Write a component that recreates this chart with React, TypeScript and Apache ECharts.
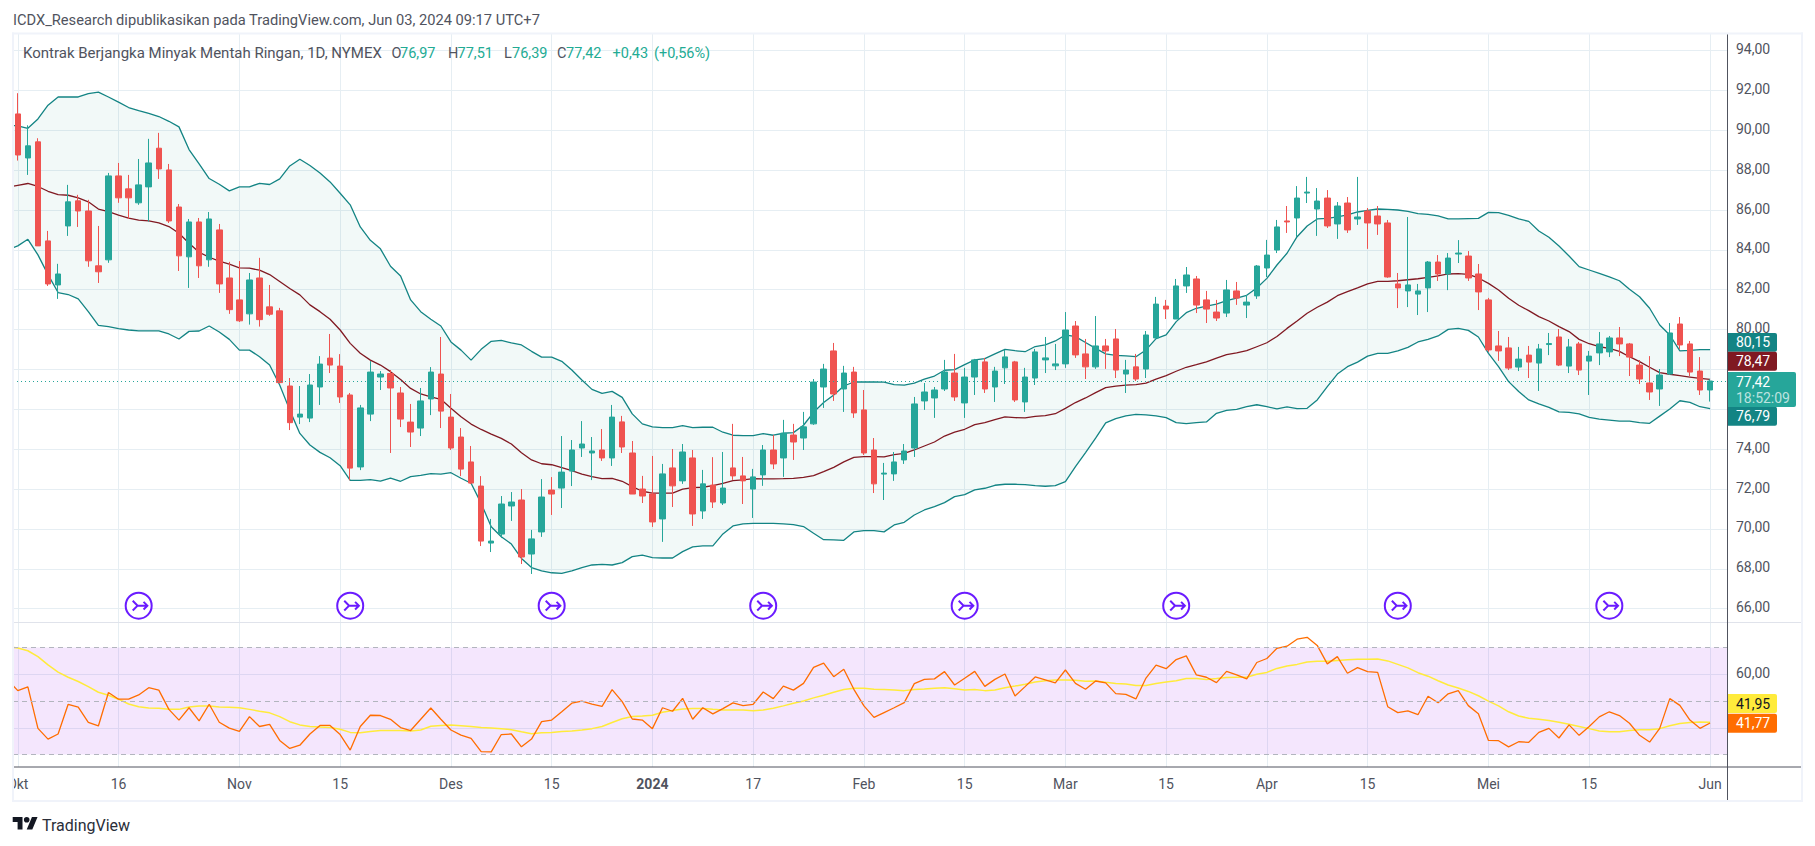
import React, { useEffect, useRef } from "react";
import * as echarts from "echarts";

const titleText = "ICDX_Research dipublikasikan pada TradingView.com, Jun 03, 2024 09:17 UTC+7";

const opens = [
  90.82,88.61,89.42,84.45,82.24,85.20,86.46,85.95,83.20,83.50,
  87.71,87.06,86.36,87.16,89.10,88.01,86.15,83.65,85.40,83.50,
  85.00,82.59,81.49,80.79,82.59,81.14,80.94,77.17,75.61,75.56,
  77.12,78.57,78.17,76.72,73.11,75.76,77.62,77.80,76.82,75.36,
  75.06,76.52,77.77,75.61,74.61,73.36,72.15,69.29,69.74,71.15,
  71.45,68.74,69.85,71.95,72.05,72.90,74.06,73.81,73.96,73.56,
  75.37,73.81,72.00,71.75,70.50,73.06,72.41,73.56,70.90,72.20,
  71.30,73.06,72.66,72.00,72.71,73.96,73.56,74.71,74.56,75.27,
  77.12,78.93,77.02,77.87,75.97,73.96,72.75,72.76,73.46,74.06,
  76.42,76.57,77.02,77.82,76.32,77.62,78.38,77.12,78.08,78.38,
  76.37,77.57,78.48,78.18,78.28,80.18,78.78,78.13,79.18,79.53,
  77.77,78.13,78.02,79.58,81.18,80.53,82.19,82.54,81.49,80.88,
  80.83,81.94,81.23,81.69,83.09,83.99,85.45,85.60,86.85,86.05,
  86.60,85.30,86.35,85.55,85.95,85.70,85.35,82.29,81.94,81.78,
  82.09,83.39,82.79,83.79,83.69,82.79,81.49,79.18,79.08,78.12,
  78.72,78.32,79.25,79.63,78.17,79.28,78.42,78.83,78.88,79.58,
  79.28,78.22,77.32,77.02,77.77,80.28,79.28,77.92,76.97,
];
const closes = [
  88.76,89.22,84.20,82.29,82.79,86.41,85.95,83.45,82.90,87.71,
  86.61,86.61,87.26,88.36,88.06,85.45,83.70,85.40,83.20,85.55,
  82.29,81.00,80.44,82.49,80.50,80.77,77.34,75.33,75.76,77.22,
  78.27,78.22,76.62,73.05,76.07,77.87,77.77,77.07,75.51,74.86,
  76.42,77.87,75.91,74.06,73.00,72.30,69.39,69.39,71.25,71.35,
  68.59,69.50,71.60,71.75,72.85,73.96,74.26,73.91,73.56,75.61,
  74.11,71.75,71.65,70.35,72.76,72.16,73.86,70.75,72.26,71.35,
  72.05,72.66,72.41,72.61,73.96,73.26,74.80,74.36,75.12,77.37,
  78.02,76.77,77.82,75.82,73.81,72.26,72.80,73.36,73.91,76.27,
  76.87,76.97,77.87,76.62,77.62,78.48,77.02,77.92,78.63,76.47,
  77.62,78.88,78.58,78.28,79.98,78.73,78.13,79.18,78.93,77.97,
  77.97,77.52,79.73,81.28,81.03,82.19,82.74,81.23,81.03,80.58,
  81.99,81.58,81.38,83.19,83.74,85.15,85.40,86.60,86.90,86.45,
  85.20,86.20,85.00,85.65,85.35,85.30,82.64,82.09,82.24,81.94,
  83.39,82.79,83.59,83.84,82.59,81.89,78.98,78.93,78.07,78.52,
  78.37,79.03,79.30,78.22,79.13,77.97,78.67,79.28,79.58,79.28,
  78.62,77.52,76.87,77.72,79.83,79.23,77.87,76.97,77.42,
];
const lows = [
  88.48,87.76,84.20,82.19,81.54,84.70,85.15,83.15,82.34,83.35,
  86.36,85.55,86.26,85.42,87.56,85.35,82.94,82.09,82.59,83.15,
  81.84,80.79,80.38,80.25,80.15,80.69,77.30,74.96,75.26,75.36,
  76.22,77.82,76.32,72.44,72.95,75.41,76.97,73.81,75.11,74.11,
  74.66,75.71,75.06,73.96,72.65,72.25,69.14,68.84,69.54,70.40,
  68.24,67.74,69.60,70.70,71.05,72.15,73.61,72.45,73.41,73.16,
  73.81,71.75,71.30,70.10,69.35,71.10,72.26,70.15,70.50,71.05,
  71.20,72.46,71.25,70.55,72.16,73.00,72.61,73.46,73.96,75.22,
  76.07,76.42,75.87,75.57,73.71,71.80,71.45,72.41,73.26,73.61,
  75.97,75.57,76.92,76.42,75.57,76.72,76.82,76.37,77.27,76.37,
  75.87,77.22,77.82,77.97,78.08,78.58,77.52,78.03,78.03,77.57,
  76.82,77.42,77.57,79.58,80.53,80.53,81.84,80.83,80.33,80.43,
  80.63,81.24,80.58,81.54,82.64,83.84,84.85,84.65,86.35,84.70,
  85.10,84.55,84.85,85.25,84.05,84.75,82.60,81.08,81.13,80.73,
  80.88,82.44,81.98,83.34,82.44,80.98,78.88,78.43,77.97,77.92,
  77.57,76.92,78.72,78.17,77.82,77.72,76.72,78.22,78.62,78.67,
  77.67,77.27,76.47,76.17,77.72,79.03,77.67,76.72,76.39,
];
const highs = [
  91.86,90.25,89.60,84.95,83.30,87.26,86.76,86.51,85.20,87.86,
  88.36,87.76,88.56,89.57,89.87,88.31,86.30,85.55,85.60,85.90,
  85.30,83.40,83.44,82.84,83.60,82.24,81.09,77.57,77.17,77.77,
  78.67,79.78,78.77,76.82,76.22,78.42,77.92,77.97,77.12,76.27,
  77.07,78.12,79.63,76.77,75.06,74.16,72.65,70.50,71.65,71.85,
  72.00,69.95,72.50,72.60,74.66,74.46,75.41,74.61,75.01,76.22,
  75.67,74.41,72.66,73.66,73.26,74.01,74.26,73.96,72.96,73.60,
  73.86,75.27,73.61,73.01,74.21,74.71,75.47,75.27,75.87,77.52,
  78.28,79.33,78.18,78.13,76.97,74.56,73.31,73.86,74.26,76.62,
  77.32,77.12,78.48,78.78,78.08,78.53,78.58,78.13,78.98,78.43,
  78.08,79.03,79.63,79.28,80.88,80.43,79.53,80.68,79.53,80.03,
  78.48,78.78,79.93,81.64,81.49,82.54,83.14,82.69,81.94,81.49,
  82.49,82.39,81.74,83.24,84.50,85.50,86.20,87.20,87.66,87.10,
  87.00,86.40,86.65,87.66,86.10,86.20,85.50,82.84,85.65,82.29,
  83.44,83.74,83.84,84.49,83.94,83.29,81.59,79.93,79.63,79.13,
  79.18,79.28,79.83,80.03,79.53,79.38,78.93,79.88,79.68,80.13,
  79.33,78.47,78.67,78.02,80.33,80.63,79.43,78.62,77.51,
];

// Bollinger bands: the first value belongs to the bar just left of the visible range
const upperBand = [
  90.27,
  90.22,90.10,90.57,91.26,91.67,91.67,91.67,91.84,91.91,91.67,
  91.41,91.14,90.99,90.85,90.69,90.45,90.17,89.03,88.31,87.58,
  87.29,86.96,87.16,87.16,87.34,87.28,87.56,88.21,88.55,88.23,
  87.86,87.41,86.84,86.26,85.15,84.48,84.05,83.18,82.69,81.49,
  80.90,80.52,80.18,79.38,78.97,78.47,79.01,79.41,79.46,79.33,
  79.23,78.91,78.62,78.62,78.41,77.97,77.47,77.00,76.80,76.90,
  76.60,75.77,75.27,75.12,75.08,75.08,75.18,75.08,75.10,75.10,
  74.85,74.70,74.68,74.68,74.78,74.70,74.80,74.83,75.20,75.85,
  76.34,76.72,77.17,77.37,77.37,77.37,77.36,77.24,77.21,77.31,
  77.51,77.67,77.96,77.99,78.24,78.48,78.54,78.78,79.01,78.94,
  78.89,79.15,79.23,79.43,79.73,79.65,79.35,79.06,78.78,78.71,
  78.68,78.64,78.98,79.55,79.73,80.40,80.85,81.07,81.18,81.28,
  81.45,81.58,81.72,82.09,82.57,83.24,83.83,84.66,85.20,85.55,
  85.58,85.65,85.75,85.90,85.98,86.05,86.03,86.00,85.93,85.82,
  85.78,85.70,85.55,85.55,85.57,85.58,85.88,85.87,85.73,85.55,
  85.43,84.95,84.63,84.19,83.69,83.16,82.99,82.82,82.65,82.45,
  82.02,81.65,81.07,80.23,79.73,78.93,78.96,79.00,79.00,
];
const basisLine = [
  87.14,
  87.24,87.33,87.18,86.94,86.77,86.74,86.61,86.41,86.05,85.92,
  85.74,85.59,85.49,85.45,85.35,85.17,84.83,84.33,83.88,83.63,
  83.43,83.28,83.10,83.08,82.98,82.76,82.41,82.06,81.74,81.24,
  80.90,80.52,79.98,79.31,78.81,78.47,78.22,77.89,77.50,77.05,
  76.77,76.63,76.50,76.05,75.63,75.26,74.99,74.76,74.54,74.26,
  73.82,73.46,73.27,73.22,73.07,72.92,72.75,72.62,72.52,72.54,
  72.39,72.12,71.89,71.80,71.80,71.80,72.00,72.07,72.09,72.17,
  72.29,72.42,72.46,72.52,72.51,72.51,72.52,72.54,72.59,72.67,
  72.87,73.09,73.36,73.59,73.63,73.63,73.61,73.73,73.79,73.96,
  74.16,74.36,74.66,74.86,75.00,75.23,75.33,75.48,75.62,75.58,
  75.57,75.65,75.68,75.78,76.05,76.34,76.57,76.84,77.09,77.16,
  77.21,77.24,77.31,77.51,77.69,77.91,78.11,78.24,78.38,78.57,
  78.74,78.83,78.94,79.14,79.34,79.65,80.06,80.43,80.82,81.12,
  81.38,81.70,81.90,82.09,82.29,82.42,82.42,82.45,82.50,82.55,
  82.62,82.69,82.79,82.81,82.77,82.59,82.32,81.99,81.57,81.22,
  80.95,80.65,80.43,80.15,79.90,79.51,79.29,79.14,79.06,78.91,
  78.64,78.39,78.11,77.84,77.76,77.69,77.62,77.55,77.50,
];
const lowerBand = [
  84.00,
  84.20,84.53,83.75,82.76,81.86,81.76,81.54,80.90,80.21,80.15,
  80.05,79.98,79.94,79.94,79.94,79.78,79.53,79.91,79.93,80.18,
  79.88,79.51,78.97,78.97,78.64,78.22,77.22,75.96,74.79,74.21,
  73.84,73.57,73.17,72.44,72.44,72.47,72.40,72.55,72.39,72.62,
  72.69,72.77,72.75,72.82,72.54,72.29,71.28,70.11,69.61,69.24,
  68.52,68.06,67.90,67.80,67.77,67.90,68.06,68.19,68.22,68.19,
  68.31,68.61,68.69,68.56,68.54,68.54,68.86,69.10,69.15,69.15,
  69.75,70.15,70.25,70.28,70.28,70.28,70.25,70.22,70.12,69.78,
  69.46,69.45,69.43,69.85,69.91,69.91,69.85,70.20,70.33,70.70,
  70.95,71.12,71.32,71.62,71.72,71.96,72.04,72.19,72.24,72.24,
  72.22,72.17,72.14,72.17,72.37,73.13,73.83,74.55,75.32,75.53,
  75.67,75.75,75.72,75.67,75.58,75.33,75.28,75.33,75.37,75.80,
  75.95,76.00,76.13,76.23,76.13,76.02,76.12,76.03,76.05,76.47,
  77.14,77.77,78.14,78.37,78.67,78.81,78.81,78.93,79.11,79.38,
  79.51,79.68,80.01,80.06,79.96,79.63,78.81,78.14,77.39,76.89,
  76.47,76.27,76.10,75.87,75.85,75.77,75.60,75.51,75.46,75.41,
  75.41,75.33,75.30,75.66,76.02,76.43,76.35,76.13,76.03,
];
const rsiLine = [
  57.9,
  53.9,55.3,39.8,35.8,37.7,48.8,47.7,42.0,40.7,53.2,
  50.7,50.7,52.3,55.0,54.1,46.9,42.9,47.5,42.6,48.8,
  42.1,39.9,38.7,44.2,40.5,41.3,35.3,32.3,33.5,37.7,
  40.9,40.9,37.5,31.7,40.5,44.7,44.6,43.2,40.1,39.0,
  43.2,47.4,43.2,39.2,37.3,36.1,31.1,31.0,37.5,37.7,
  32.9,35.8,42.3,42.9,46.0,49.2,50.0,48.9,48.0,54.3,
  49.8,43.3,42.9,39.7,47.5,46.2,51.0,43.2,47.5,45.2,
  47.2,49.3,48.3,48.8,53.4,50.9,55.6,54.1,56.6,62.6,
  64.2,59.1,61.9,54.4,48.2,43.9,45.7,47.5,49.4,56.5,
  58.1,58.3,61.0,56.0,58.5,61.1,55.5,58.1,60.1,51.9,
  55.4,59.0,57.9,56.8,61.6,56.6,54.4,57.5,56.8,52.8,
  52.5,50.8,58.6,63.4,62.1,65.5,66.9,59.8,58.9,56.9,
  61.1,59.8,58.3,64.4,65.9,69.7,70.5,73.1,73.8,70.8,
  63.9,66.6,60.4,62.5,61.0,60.7,47.9,45.7,46.3,44.9,
  51.8,49.4,52.7,53.9,48.3,45.3,35.3,35.2,32.9,34.8,
  34.6,38.3,39.8,36.2,41.1,37.2,40.5,44.1,46.0,44.6,
  41.7,37.2,34.7,39.8,50.9,48.4,42.9,39.8,41.8,
];
const rsiMa = [
  70.3,
  69.8,68.8,66.6,63.5,60.8,58.9,57.3,55.4,53.3,52.2,
  50.7,48.9,47.9,47.4,47.3,46.9,46.9,47.8,48.2,48.2,
  47.8,47.7,47.5,46.9,46.2,45.6,44.2,42.3,41.1,40.5,
  40.3,40.1,39.5,38.3,38.2,38.6,39.0,39.0,39.0,38.8,
  39.2,40.6,40.9,41.1,40.8,40.5,40.1,39.9,39.7,39.3,
  38.5,37.8,38.2,38.3,38.6,38.8,39.2,39.7,40.5,42.0,
  43.4,44.2,44.4,44.7,45.8,46.5,47.0,47.2,47.2,46.9,
  46.7,46.7,46.7,46.4,46.7,47.3,48.2,49.2,50.0,51.2,
  52.2,53.3,54.3,54.8,54.8,54.4,54.3,54.1,53.9,54.3,
  54.5,54.8,55.0,54.6,54.1,54.3,53.9,54.1,55.0,55.6,
  56.3,57.1,57.6,57.9,57.9,57.8,57.4,57.5,57.0,56.6,
  56.4,55.8,55.8,56.6,57.1,57.6,58.4,58.4,58.1,58.4,
  58.8,58.9,58.9,60.0,60.7,62.2,63.1,63.7,64.6,64.9,
  64.9,65.2,65.4,65.6,65.6,65.7,65.0,63.7,62.4,60.6,
  59.3,57.6,56.0,54.9,53.6,52.0,50.0,48.2,46.0,44.4,
  43.6,43.2,42.7,42.1,41.3,40.5,39.7,38.8,38.5,38.5,
  39.0,39.3,39.3,39.7,40.8,41.6,42.0,42.2,42.1,
];

const timeTickBars = [0, 10, 22, 32, 43, 53, 63, 73, 84, 94, 104, 114, 124, 134, 146, 156, 168];
const timeTickLabels = ["Okt","16","Nov","15","Des","15","2024","17","Feb","15","Mar","15","Apr","15","Mei","15","Jun"];
const priceGridTicks = [66,68,70,72,74,76,78,80,82,84,86,88,90,92,94];
// 76,00 and 78,00 are covered by the last-value tags in the reference
const priceLabelTicks = [66,68,70,72,74,80,82,84,86,88,90,92,94];
const rsiGridTicks = [40, 60];
const rsiLabelTicks = [60];
const rsiGuides = [70, 50, 30];
const eventBars = [12, 33, 53, 74, 94, 115, 137, 158];
const eventPrice = 66.15;
const lastClose = 77.42;

const legendItems: [string, string, number, number][] = [
  ["Kontrak Berjangka Minyak Mentah Ringan, 1D, NYMEX", "#50535e", 23, 15],
  ["O", "#50535e", 391.5, 14.5], ["76,97", "#22ab94", 400, 14.5],
  ["H", "#50535e", 448, 14.5], ["77,51", "#22ab94", 457.5, 14.5],
  ["L", "#50535e", 504, 14.5], ["76,39", "#22ab94", 512, 14.5],
  ["C", "#50535e", 557, 14.5], ["77,42", "#22ab94", 566, 14.5],
  ["+0,43", "#22ab94", 612.5, 14.5], ["(+0,56%)", "#22ab94", 654, 14.5],
];
// [label, second line, fill, text colour, top, bottom, right]
const priceTags: [string, string, string, string, number, number, number][] = [
  ["80,15", "", "#138484", "#ffffff", 333, 351.7, 1777],
  ["78,47", "", "#801922", "#ffffff", 351.7, 370.7, 1777],
  ["76,79", "", "#138484", "#ffffff", 406.7, 425.7, 1777],
  ["77,42", "18:52:09", "#26a69a", "#ffffff", 372, 407, 1796],
  ["41,95", "", "#ffeb3b", "#131722", 694, 713, 1777],
  ["41,77", "", "#ff6d00", "#ffffff", 713.7, 732.7, 1777],
];

const FONT = "Roboto, sans-serif";
const GRID = "#e6eef3";
const TEXT = "#50535e";
const fmt = (v: number) => "{p|" + v.toFixed(2).replace(".", ",") + "}";
const byBar = (a: number[]) => a.map((v, k) => [k - 1, v]);

const LOGO = "M14 22H7V11H0V4h14v18zM28 22h-8l7.5-18h8L28 22zM24 8a4 4 0 1 1-8 0 4 4 0 0 1 8 0z";
const EVENT_ICON = "path://M13 1A12 12 0 1 1 13 25A12 12 0 1 1 13 1ZM7.5 8.5L12 13L21 13M17.5 9.5L21 13L17.5 16.5M12 13L7.5 17.5";

export default function App() {
  const ref = useRef<HTMLDivElement>(null);
  useEffect(() => {
    if (!ref.current) return;
    echarts.graphic.registerShape("tvlogo", echarts.graphic.extendPath(LOGO, {}));
    const chart = echarts.init(ref.current, undefined, { renderer: "svg" });

    const band = { color: "#138484", width: 1.3 };
    const lineBase = { type: "line", showSymbol: false, symbol: "none", silent: true, animation: false };
    const xMin = -0.4765;
    const xMax = 169.68;
    const graphics: any[] = [
      { type: "rect", z: 50, shape: { x: 0, y: 0, width: 12, height: 846 }, style: { fill: "#ffffff" } },
      { type: "rect", z: 50, shape: { x: 1803, y: 0, width: 12, height: 846 }, style: { fill: "#ffffff" } },
      { type: "rect", z: 51, shape: { x: 12, y: 32.5, width: 1791, height: 2 }, style: { fill: "#f0f3fa" } },
      { type: "rect", z: 51, shape: { x: 12, y: 800, width: 1791, height: 2 }, style: { fill: "#f0f3fa" } },
      { type: "rect", z: 51, shape: { x: 12, y: 32.5, width: 2, height: 769 }, style: { fill: "#f0f3fa" } },
      { type: "rect", z: 51, shape: { x: 1801, y: 32.5, width: 2, height: 769 }, style: { fill: "#f0f3fa" } },
      { type: "line", z: 20, shape: { x1: 13, y1: 622.5, x2: 1802, y2: 622.5 }, style: { stroke: "#e0e3eb", lineWidth: 1 } },
      { type: "line", z: 20, shape: { x1: 13, y1: 767, x2: 1802, y2: 767 }, style: { stroke: "#50535e", lineWidth: 1 } },
      { type: "line", z: 20, shape: { x1: 1727.5, y1: 34, x2: 1727.5, y2: 801 }, style: { stroke: "#50535e", lineWidth: 1 } },
      { type: "text", z: 60, x: 13, y: 20, style: { text: titleText, fill: TEXT, fontFamily: FONT, fontSize: 14.66, verticalAlign: "middle", align: "left" } },
      { type: "tvlogo", z: 60, x: 12.7, y: 814.2, scaleX: 0.7, scaleY: 0.7, style: { fill: "#131722" } },
      { type: "text", z: 60, x: 42, y: 825, style: { text: "TradingView", fill: "#2a2e39", fontFamily: FONT, fontSize: 16, verticalAlign: "middle", align: "left" } },
    ];
    legendItems.forEach(([t, c, x, size]) => {
      graphics.push({ type: "text", z: 60, x, y: 53, style: { text: t, fill: c, fontFamily: FONT, fontSize: size, verticalAlign: "middle", align: "left" } });
    });
    priceTags.forEach(([t, t2, fill, color, top, bottom, right]) => {
      graphics.push({ type: "rect", z: 40, shape: { x: 1728, y: top, width: right - 1728, height: bottom - top, r: [0, 2, 2, 0] }, style: { fill } });
      const cy = t2 ? top + 9.5 : (top + bottom) / 2;
      graphics.push({ type: "text", z: 41, x: 1736, y: cy, style: { text: t, fill: color, fontFamily: FONT, fontSize: 14, verticalAlign: "middle", align: "left" } });
      if (t2) graphics.push({ type: "text", z: 41, x: 1736, y: top + 26, style: { text: t2, fill: "rgba(255,255,255,0.7)", fontFamily: FONT, fontSize: 14, verticalAlign: "middle", align: "left" } });
    });

    chart.setOption({
      animation: false,
      backgroundColor: "#ffffff",
      textStyle: { fontFamily: FONT },
      grid: [
        { left: 13, width: 1714, top: 34, height: 588, containLabel: false },
        { left: 13, width: 1714, top: 622.5, height: 144.5, containLabel: false },
      ],
      xAxis: [
        {
          type: "value", gridIndex: 0, min: xMin, max: xMax,
          axisLine: { show: false },
          axisTick: { show: false, customValues: timeTickBars },
          axisLabel: { show: false },
          splitLine: { show: true, lineStyle: { color: GRID, width: 1 } },
        },
        {
          type: "value", gridIndex: 1, min: xMin, max: xMax,
          axisLine: { show: false },
          axisTick: { show: false, customValues: timeTickBars },
          axisLabel: {
            show: true, customValues: timeTickBars, color: TEXT, fontSize: 14, margin: 10, fontFamily: FONT,
            hideOverlap: false,
            formatter: (v: number) => {
              const s = timeTickLabels[timeTickBars.indexOf(v)] ?? "";
              return s === "2024" ? "{b|2024}" : s;
            },
            rich: { b: { fontWeight: "bold", fontSize: 14, color: TEXT, fontFamily: FONT } },
          },
          splitLine: { show: true, lineStyle: { color: GRID, width: 1 } },
        },
      ],
      yAxis: [
        {
          type: "value", gridIndex: 0, position: "right", min: 65.33, max: 94.83,
          axisLine: { show: false },
          axisTick: { show: false, customValues: priceGridTicks },
          axisLabel: {
            show: true, customValues: priceLabelTicks, margin: 9, formatter: fmt,
            rich: { p: { color: TEXT, fontSize: 14, fontFamily: FONT, padding: [0, 0, 3, 0] } },
          },
          splitLine: { show: true, lineStyle: { color: GRID, width: 1 } },
        },
        {
          type: "value", gridIndex: 1, position: "right", min: 25.37, max: 79.35,
          axisLine: { show: false },
          axisTick: { show: false, customValues: rsiGridTicks },
          axisLabel: {
            show: true, customValues: rsiLabelTicks, margin: 9, formatter: fmt,
            rich: { p: { color: TEXT, fontSize: 14, fontFamily: FONT, padding: [0, 0, 2, 0] } },
          },
          splitLine: { show: true, lineStyle: { color: GRID, width: 1 } },
        },
      ],
      series: [
        {
          // Fill between the Bollinger bands, one polygon through the axis scales
          type: "custom", name: "bb-fill", xAxisIndex: 0, yAxisIndex: 0, silent: true, z: 1, clip: true,
          encode: { x: 0, y: 1 },
          data: [[0, basisLine[1]]],
          renderItem: (_p: any, api: any) => {
            const top = byBar(upperBand).map((d) => api.coord(d));
            const bottom = byBar(lowerBand).map((d) => api.coord(d)).reverse();
            return { type: "polygon", shape: { points: top.concat(bottom) }, style: { fill: "rgba(0,137,123,0.05)" } };
          },
        },
        { ...lineBase, name: "Upper", xAxisIndex: 0, yAxisIndex: 0, data: byBar(upperBand), lineStyle: band, z: 3 },
        { ...lineBase, name: "Lower", xAxisIndex: 0, yAxisIndex: 0, data: byBar(lowerBand), lineStyle: band, z: 3 },
        { ...lineBase, name: "Basis", xAxisIndex: 0, yAxisIndex: 0, data: byBar(basisLine), lineStyle: { color: "#801922", width: 1.3 }, z: 3 },
        {
          type: "candlestick", name: "CL1!", xAxisIndex: 0, yAxisIndex: 0, barWidth: 6, silent: true, z: 4,
          data: opens.map((o, k) => [k, o, closes[k], lows[k], highs[k]]),
          itemStyle: { color: "#26a69a", color0: "#ef5350", borderColor: "#26a69a", borderColor0: "#ef5350", borderWidth: 1 },
          markLine: {
            silent: true, symbol: "none", label: { show: false }, animation: false,
            lineStyle: { color: "#26a69a", type: [1, 3], width: 1 },
            data: [{ yAxis: lastClose }],
          },
        },
        {
          type: "scatter", name: "events", xAxisIndex: 0, yAxisIndex: 0, silent: true, z: 5,
          symbol: EVENT_ICON, symbolSize: 26, symbolKeepAspect: true,
          data: eventBars.map((b) => [b, eventPrice]),
          itemStyle: { color: "#ffffff", borderColor: "#6a1bff", borderWidth: 2, opacity: 1 },
        },
        {
          ...lineBase, name: "RSI", xAxisIndex: 1, yAxisIndex: 1, data: byBar(rsiLine), z: 4,
          lineStyle: { color: "#ff6d00", width: 1.3 },
          markArea: {
            silent: true, animation: false,
            itemStyle: { color: "rgba(145,5,235,0.1)" },
            data: [[{ yAxis: rsiGuides[0] }, { yAxis: rsiGuides[2] }]],
          },
          markLine: {
            silent: true, symbol: "none", label: { show: false }, animation: false,
            lineStyle: { color: "#b2b5be", type: [5, 4], width: 1 },
            data: rsiGuides.map((v) => ({ yAxis: v })),
          },
        },
        { ...lineBase, name: "RSI MA", xAxisIndex: 1, yAxisIndex: 1, data: byBar(rsiMa), z: 3, lineStyle: { color: "#ffeb3b", width: 1.5 } },
      ],
      graphic: { elements: graphics },
    } as any);
    return () => chart.dispose();
  }, []);
  return <div ref={ref} style={{ position: "fixed", left: 0, top: 0, width: 1815, height: 846, background: "#fff" }} />;
}
